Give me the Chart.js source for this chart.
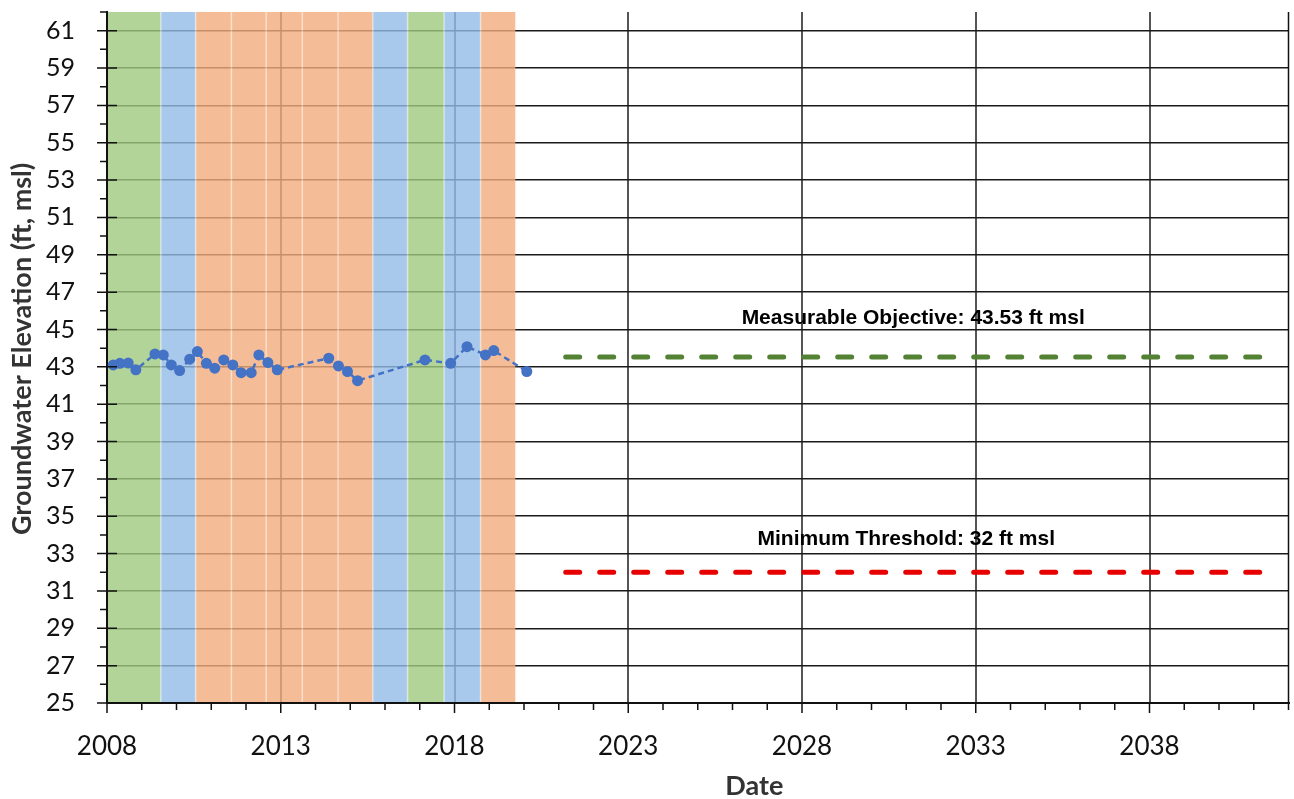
<!DOCTYPE html>
<html lang="en">
<head>
<meta charset="UTF-8">
<title>Groundwater Elevation</title>
<script src="https://cdn.jsdelivr.net/npm/chart.js"></script>
<style>
  html, body { margin: 0; padding: 0; background: #fff; }
  #wrap { width: 1294px; height: 799px; }
</style>
</head>
<body>
<div id="wrap"><canvas id="gwChart"></canvas></div>
<script>
// measured groundwater elevations (decimal year, ft msl)
const sampleYears = [2008.18, 2008.37, 2008.61, 2008.83, 2009.38, 2009.62, 2009.85, 2010.09, 2010.38, 2010.60,
                     2010.86, 2011.10, 2011.36, 2011.62, 2011.86, 2012.15, 2012.37, 2012.63, 2012.90,
                     2014.38, 2014.66, 2014.92, 2015.21, 2017.15, 2017.89, 2018.36, 2018.89, 2019.13, 2020.08];
const sampleElev = [43.10, 43.19, 43.20, 42.84, 43.69, 43.64, 43.10, 42.80, 43.41, 43.82,
                    43.19, 42.93, 43.37, 43.10, 42.69, 42.69, 43.64, 43.23, 42.84,
                    43.46, 43.05, 42.75, 42.26, 43.37, 43.19, 44.08, 43.64, 43.87, 42.75];

// sustainable management criteria
const criteriaYears = [2021.2, 2041.35];
const measurableObjective = 43.53;
const minimumThreshold = 32;

// water year type shading
const wyStarts = [2008.0, 2009.55, 2010.55, 2011.58, 2012.58, 2013.62, 2014.65, 2015.65, 2016.65, 2017.70, 2018.75];
const wyEnds   = [2009.55, 2010.55, 2011.58, 2012.58, 2013.62, 2014.65, 2015.65, 2016.65, 2017.70, 2018.75, 2019.75];
const wyTypes  = ['wet', 'normal', 'dry', 'dry', 'dry', 'dry', 'dry', 'normal', 'wet', 'normal', 'dry'];

const xTickYears = [2008, 2013, 2018, 2023, 2028, 2033, 2038];

const bandColors = {
    wet: 'rgba(160, 201, 128, 0.8)',
    normal: 'rgba(147, 187, 231, 0.8)',
    dry: 'rgba(243, 172, 125, 0.8)'
};

const bandPlugin = {
    id: 'bands',
    beforeDatasetsDraw(chart) {
        const {ctx, chartArea, scales: {x}} = chart;
        ctx.save();
        for (let i = 0; i < wyStarts.length; i++) {
            const x0 = Math.max(x.getPixelForValue(wyStarts[i]), chartArea.left + 1);
            const x1 = x.getPixelForValue(wyEnds[i]);
            ctx.fillStyle = bandColors[wyTypes[i]];
            ctx.fillRect(x0, chartArea.top, x1 - x0, chartArea.bottom - chartArea.top - 1);
            if (i > 0) {
                ctx.fillStyle = 'rgba(255,255,255,0.45)';
                ctx.fillRect(x0 - 0.75, chartArea.top, 1.5, chartArea.bottom - chartArea.top - 1);
            }
        }
        ctx.restore();
    }
};

const axisTicksPlugin = {
    id: 'axisTicks',
    afterDraw(chart) {
        const {ctx, chartArea, scales: {x, y}} = chart;
        ctx.save();
        ctx.strokeStyle = '#111';
        ctx.lineWidth = 1.5;
        ctx.beginPath();
        for (let v = 25; v <= 62; v++) {
            const py = y.getPixelForValue(v);
            if (v % 2 === 1) {
                ctx.moveTo(chartArea.left - 10, py);
                ctx.lineTo(chartArea.left + 10, py);
            } else {
                ctx.moveTo(chartArea.left - 7, py);
                ctx.lineTo(chartArea.left, py);
            }
        }
        for (let v = 2008; v <= 2042; v++) {
            const px = x.getPixelForValue(v);
            const len = (v - 2008) % 5 === 0 ? 10 : 7;
            ctx.moveTo(px, chartArea.bottom);
            ctx.lineTo(px, chartArea.bottom + len);
        }
        // right frame line
        ctx.moveTo(chartArea.right, chartArea.top);
        ctx.lineTo(chartArea.right, chartArea.bottom);
        ctx.stroke();

        // criteria labels
        ctx.fillStyle = '#000';
        ctx.font = 'bold 21px "Liberation Sans", Arial, sans-serif';
        ctx.textAlign = 'center';
        ctx.textBaseline = 'middle';
        ctx.fillText('Measurable Objective: 43.53 ft msl', x.getPixelForValue(2031.2), y.getPixelForValue(45.6));
        ctx.fillText('Minimum Threshold: 32 ft msl', x.getPixelForValue(2031.0), y.getPixelForValue(33.78));

        // axis titles
        ctx.fillStyle = '#333';
        ctx.font = 'bold 27px Lato';
        ctx.fillText('Date', x.getPixelForValue(2026.63), 786);
        ctx.translate(22, y.getPixelForValue(43.96));
        ctx.rotate(-Math.PI / 2);
        ctx.fillText('Groundwater Elevation (ft, msl)', 0, 0);
        ctx.restore();
    }
};

function noScalePadding(s) {
    s.paddingTop = 0;
    s.paddingBottom = 0;
    s.paddingLeft = 0;
    s.paddingRight = 0;
}

const ctx = document.getElementById('gwChart').getContext('2d');
new Chart(ctx, {
    type: 'line',
    data: {
        datasets: [
            {
                label: 'Groundwater Elevation',
                data: sampleYears.map((yr, i) => ({x: yr, y: sampleElev[i]})),
                borderColor: '#4472C4',
                backgroundColor: '#4472C4',
                borderWidth: 2.5,
                borderDash: [6, 4],
                pointRadius: 5.5,
                pointBorderWidth: 0,
                tension: 0
            },
            {
                label: 'Measurable Objective',
                data: criteriaYears.map(yr => ({x: yr, y: measurableObjective})),
                borderColor: '#548235',
                borderWidth: 5,
                borderDash: [14, 20],
                borderCapStyle: 'round',
                pointRadius: 0
            },
            {
                label: 'Minimum Threshold',
                data: criteriaYears.map(yr => ({x: yr, y: minimumThreshold})),
                borderColor: '#E60000',
                borderWidth: 5,
                borderDash: [14, 20],
                borderCapStyle: 'round',
                pointRadius: 0
            }
        ]
    },
    options: {
        responsive: true,
        maintainAspectRatio: false,
        animation: false,
        layout: { padding: { top: 12, right: 3, left: 0, bottom: 0 } },
        plugins: {
            legend: { display: false },
            tooltip: { enabled: false }
        },
        scales: {
            x: {
                type: 'linear',
                min: 2008,
                max: 2042,
                ticks: {
                    stepSize: 1,
                    maxTicksLimit: 100,
                    autoSkip: false,
                    maxRotation: 0,
                    padding: 28,
                    color: '#111',
                    font: { family: 'Lato', size: 26 },
                    callback: v => xTickYears.includes(v) ? String(v) : ''
                },
                grid: {
                    drawTicks: false,
                    lineWidth: 2,
                    color: c => (c.tick && xTickYears.includes(c.tick.value) && c.tick.value !== 2008) ? '#555' : 'transparent'
                },
                border: { color: '#111', width: 2 },
                title: { display: false },
                afterFit: s => { s.height = 96; noScalePadding(s); }
            },
            y: {
                min: 25,
                max: 62,
                ticks: {
                    stepSize: 1,
                    maxTicksLimit: 100,
                    autoSkip: false,
                    padding: 32,
                    color: '#111',
                    font: { family: 'Lato', size: 25 },
                    callback: v => v % 2 === 1 ? String(v) : ''
                },
                grid: {
                    drawTicks: false,
                    lineWidth: 1.5,
                    color: c => (c.tick && c.tick.value % 2 === 1 && c.tick.value !== 25) ? '#1a1a1a' : 'transparent'
                },
                border: { color: '#111', width: 2 },
                title: { display: false },
                afterFit: s => { s.width = 107; noScalePadding(s); }
            }
        }
    },
    plugins: [bandPlugin, axisTicksPlugin]
});
</script>
</body>
</html>
